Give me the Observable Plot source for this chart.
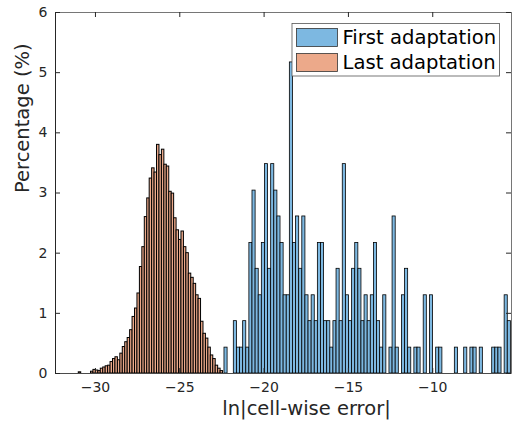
<!DOCTYPE html>
<html><head><meta charset="utf-8">
<script src="https://cdn.jsdelivr.net/npm/d3@7"></script>
<script src="https://cdn.jsdelivr.net/npm/@observablehq/plot@0.6"></script>
<style>
body{margin:0;background:#fff;}
#chart{position:relative;width:513px;height:427px;}
#chart svg{font-family:"DejaVu Sans",sans-serif;}
</style></head><body><div id="chart"></div>
<script>
// ---- data ----
const seriesNames = ["First adaptation", "Last adaptation"];
const xTicks = [-30, -25, -20, -15, -10];
const yTicks = [0, 1, 2, 3, 4, 5, 6];
const xDomain = [-32.37, -5.33];
const yDomain = [0, 6];
const xLabel = "ln|cell-wise error|";
const yLabel = "Percentage (%)";

// First adaptation: bin start, bin width, percentage per bin
const firstBinStart = -22.35;
const firstBinWidth = 0.1846;
const firstPct = [
  0.43,0,0,0.87,0.43,0.43,0.87,0.43,2.17,3.04,1.74,1.3,2.17,3.48,1.74,3.48,3.04,2.61,2.17,1.3,1.3,5.17,
  2.17,2.61,1.74,2.61,1.3,0.87,1.3,0.87,2.17,2.17,0.87,0.87,0.43,0.87,1.74,0.87,3.48,1.3,0.87,1.74,2.17,1.74,0.87,
  1.3,0.87,1.3,2.17,0.87,0.43,1.3,0,0.43,2.61,0.43,0,1.3,1.74,0.43,0,0.43,0.43,0,1.3,0,1.3,0,0.43,0.43,
  0,0,0,0,0.43,0,0,0.43,0,0.43,0.43,0,0.43,0,0,0,0.43,0.43,0.43,0,1.3,0.87
];

// Last adaptation
const lastBinStart = -30.99;
const lastBinWidth = 0.145;
const lastPct = [
  0.02,0,0,0,0,
  0.03,0.06,0.05,0.04,0.08,0.1,0.12,0.13,0.19,0.24,0.27,0.22,0.33,0.44,0.52,0.59,0.72,0.94,1.08,1.33,
  1.77,2.1,2.6,2.91,3.24,3.41,3.34,3.8,3.63,3.72,3.47,3.44,3.02,2.99,2.58,2.38,2.22,2.36,2.1,2.0,
  1.66,1.59,1.49,1.3,1.24,0.86,0.66,0.58,0.43,0.3,0.24,0.13,0.08,0.04
];

const colors = ["#7db8e1", "#eca98a"];

const toBins = (start, w, vals) =>
  vals.map((v, i) => ({x1: start + i * w, x2: start + (i + 1) * w, y: v})).filter(d => d.y > 0);

const firstBins = toBins(firstBinStart, firstBinWidth, firstPct);
const lastBins = toBins(lastBinStart, lastBinWidth, lastPct);

const W = 513, H = 427, mL = 55, mR = 2, mT = 12, mB = 54;
const frameW = W - mL - mR, frameH = H - mT - mB;
const tickLen = 5;
const axisColor = "#262626";

const svg = Plot.plot({
  width: W, height: H,
  marginLeft: mL, marginRight: mR, marginTop: mT, marginBottom: mB,
  style: {fontFamily: "DejaVu Sans, sans-serif", fontSize: "14px", color: axisColor, background: "#fff"},
  x: {domain: xDomain},
  y: {domain: yDomain},
  marks: [
    Plot.rectY(firstBins, {x1: "x1", x2: "x2", y: "y", fill: colors[0], stroke: "#000", strokeWidth: 0.8}),
    Plot.rectY(lastBins, {x1: "x1", x2: "x2", y: "y", fill: colors[1], stroke: "#000", strokeWidth: 1}),
    Plot.ruleY([0], {stroke: axisColor, strokeWidth: 1}),
    Plot.frame({stroke: "#555", strokeWidth: 0.8}),
    Plot.ruleX([xDomain[0]], {stroke: axisColor, strokeWidth: 1}),
    Plot.axisX({ticks: xTicks, tickSize: 0, tickPadding: 9, label: null, fontSize: 14, tickFormat: d3.format("d")}),
    Plot.axisY({ticks: yTicks, tickSize: 0, tickPadding: 8, label: null, fontSize: 14, tickFormat: d3.format("d")}),
    Plot.tickX(xTicks, {x: d => d, insetTop: frameH - tickLen, stroke: axisColor}),
    Plot.tickX(xTicks, {x: d => d, insetBottom: frameH - tickLen, stroke: axisColor}),
    Plot.tickY(yTicks, {y: d => d, insetRight: frameW - tickLen, stroke: axisColor}),
    Plot.tickY(yTicks, {y: d => d, insetLeft: frameW - tickLen, stroke: axisColor}),
    Plot.text([xLabel], {frameAnchor: "bottom", dx: 23, dy: 35, fontSize: 19.5, fill: axisColor, lineAnchor: "middle"}),
    Plot.text([yLabel], {frameAnchor: "left", dx: -33, rotate: -90, fontSize: 19.5, fill: axisColor, lineAnchor: "middle"})
  ]
});

// Legend inside the plot area (top right)
const g = d3.select(svg).append("g")
  .attr("font-family", "DejaVu Sans, sans-serif").attr("font-size", 19.6).attr("text-anchor", "start");
g.append("rect").attr("x", 292).attr("y", 23.5).attr("width", 207.5).attr("height", 52.5)
  .attr("fill", "#fff").attr("stroke", "#555").attr("stroke-width", 0.8);
seriesNames.forEach((name, i) => {
  const cy = 37.5 + i * 25;
  g.append("rect").attr("x", 296.5).attr("y", cy - 9).attr("width", 41).attr("height", 18)
    .attr("fill", colors[i]).attr("stroke", "#333").attr("stroke-width", 0.8);
  g.append("text").attr("x", 342.5).attr("y", cy).attr("dy", "0.35em")
    .attr("text-anchor", "start").attr("fill", "#000").text(name);
});

document.getElementById("chart").appendChild(svg);
</script>
</body></html>
